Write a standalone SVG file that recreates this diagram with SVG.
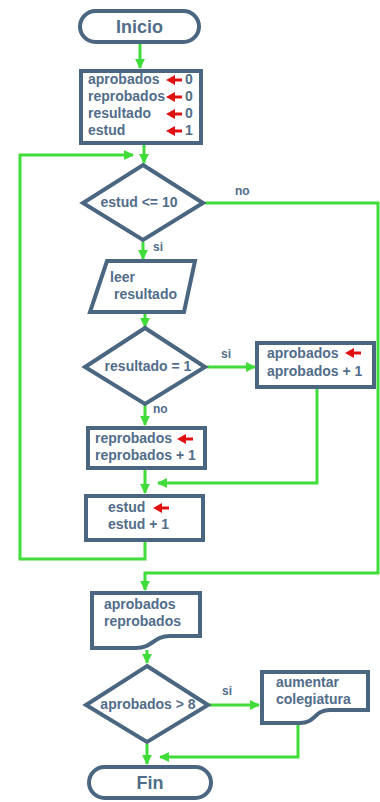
<svg xmlns="http://www.w3.org/2000/svg" width="380" height="802" viewBox="0 0 380 802">
<style>
.n{fill:#fff;stroke:#4b6680;stroke-width:4;stroke-linejoin:miter}
.t{font-family:"Liberation Sans",Arial,sans-serif;font-weight:bold;font-size:14px;fill:#516d8a}
.big{font-size:18px}
.lb{font-family:"Liberation Sans",Arial,sans-serif;font-weight:bold;font-size:12px;fill:#516d8a}
.c{fill:none;stroke:#40dd3a;stroke-width:3}
.ra{fill:#e01010}
.ral{stroke:#e01010;stroke-width:3}
</style>
<defs>
<marker id="ah" viewBox="0 0 10 10" refX="9" refY="5" markerWidth="3.3" markerHeight="3.6" orient="auto" markerUnits="strokeWidth">
<path d="M0,0 L10,5 L0,10 z" fill="#40dd3a"/>
</marker>
<g id="redarrow"><path class="ra" d="M0,0 L9,-5 L9,5 z"/><line class="ral" x1="8" y1="0" x2="16" y2="0"/></g>
</defs>
<rect width="380" height="802" fill="#fff"/>
<g id="connectors">
<path class="c" d="M140,43 V68" marker-end="url(#ah)"/>
<path class="c" d="M144,145 V163" marker-end="url(#ah)"/>
<path class="c" d="M145,542 V559 H20 V155 H133" marker-end="url(#ah)"/>
<path class="c" d="M143,242 V259" marker-end="url(#ah)"/>
<path class="c" d="M205,203 H378 V573 H145 V590" marker-end="url(#ah)"/>
<path class="c" d="M145,314 V327" marker-end="url(#ah)"/>
<path class="c" d="M207,367 H255" marker-end="url(#ah)"/>
<path class="c" d="M145,405 V425" marker-end="url(#ah)"/>
<path class="c" d="M145,469 V493" marker-end="url(#ah)"/>
<path class="c" d="M317,389 V483 H158" marker-end="url(#ah)"/>
<path class="c" d="M147,650 V663" marker-end="url(#ah)"/>
<path class="c" d="M209,705 H259" marker-end="url(#ah)"/>
<path class="c" d="M298,725 V757 H160" marker-end="url(#ah)"/>
<path class="c" d="M147,744 V764" marker-end="url(#ah)"/>
</g>
<g id="inicio">
<rect class="n" x="80" y="11" width="119" height="31" rx="15.5"/>
<text class="t big" x="139.5" y="33" text-anchor="middle">Inicio</text>
</g>
<g id="init">
<rect class="n" x="81" y="71" width="120" height="72"/>
<text class="t" x="88" y="84">aprobados</text>
<text class="t" x="88" y="101">reprobados</text>
<text class="t" x="88" y="118">resultado</text>
<text class="t" x="88" y="135">estud</text>
<use href="#redarrow" x="166" y="80"/>
<use href="#redarrow" x="166" y="97"/>
<use href="#redarrow" x="166" y="114"/>
<use href="#redarrow" x="166" y="131"/>
<text class="t" x="185" y="84">0</text>
<text class="t" x="185" y="101">0</text>
<text class="t" x="185" y="118">0</text>
<text class="t" x="185" y="135">1</text>
</g>
<g id="cond1">
<path class="n" d="M143,165 L203,203 L143,240 L83,203 z"/>
<text class="t" x="139" y="207" text-anchor="middle">estud &lt;= 10</text>
<text class="lb" x="235" y="195">no</text>
<text class="lb" x="153" y="251">si</text>
</g>
<g id="leer">
<path class="n" d="M107,261 L195,261 L184,312 L90,312 z"/>
<text class="t" x="110" y="282">leer</text>
<text class="t" x="114" y="299">resultado</text>
</g>
<g id="cond2">
<path class="n" d="M145,328 L205,367 L145,404 L85,367 z"/>
<text class="t" x="148" y="371" text-anchor="middle">resultado = 1</text>
<text class="lb" x="221" y="358">si</text>
<text class="lb" x="153" y="413">no</text>
</g>
<g id="incAprob">
<rect class="n" x="257" y="343" width="117" height="44"/>
<text class="t" x="267" y="358">aprobados</text>
<use href="#redarrow" x="345" y="353"/>
<text class="t" x="267" y="376">aprobados + 1</text>
</g>
<g id="incReprob">
<rect class="n" x="88" y="428" width="117" height="40"/>
<text class="t" x="95" y="443">reprobados</text>
<use href="#redarrow" x="177" y="439"/>
<text class="t" x="95" y="460">reprobados + 1</text>
</g>
<g id="incEstud">
<rect class="n" x="86" y="496" width="117" height="44"/>
<text class="t" x="108" y="512">estud</text>
<use href="#redarrow" x="153" y="508"/>
<text class="t" x="108" y="529">estud + 1</text>
</g>
<g id="mostrar">
<path class="n" d="M92,593 H200 V636 H170 C153,636 153,648 136,648 H92 z"/>
<text class="t" x="104" y="609">aprobados</text>
<text class="t" x="104" y="626">reprobados</text>
</g>
<g id="cond3">
<path class="n" d="M147,666 L208,705 L147,742 L86,705 z"/>
<text class="t" x="148" y="709" text-anchor="middle">aprobados &gt; 8</text>
<text class="lb" x="222" y="695">si</text>
</g>
<g id="aumentar">
<path class="n" d="M262,672 H368 V710 H330 C314,710 316,723 300,723 H262 z"/>
<text class="t" x="276" y="687">aumentar</text>
<text class="t" x="276" y="704">colegiatura</text>
</g>
<g id="fin">
<rect class="n" x="89" y="767" width="122" height="31" rx="15.5"/>
<text class="t big" x="150" y="789" text-anchor="middle">Fin</text>
</g>
</svg>
